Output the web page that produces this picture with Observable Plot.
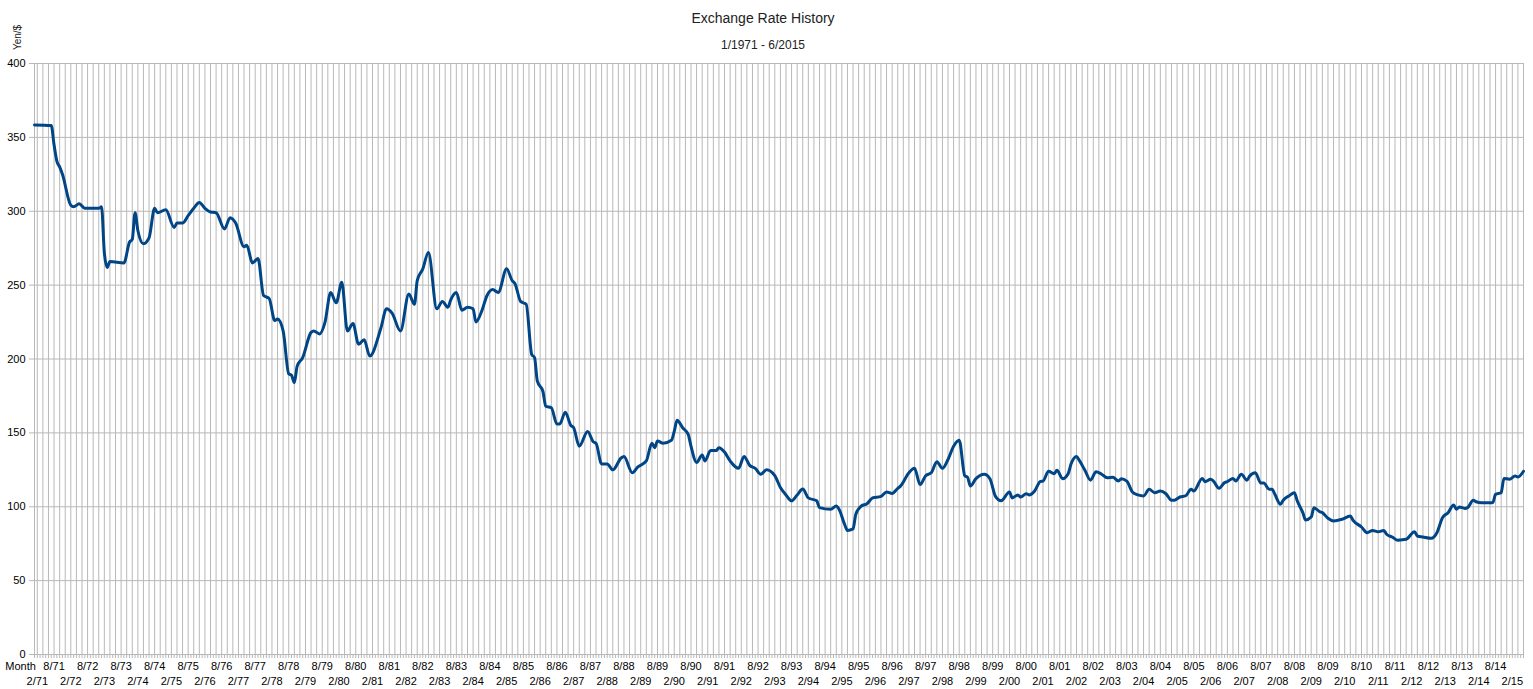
<!DOCTYPE html>
<html><head><meta charset="utf-8">
<script src="https://cdn.jsdelivr.net/npm/d3@7"></script>
<script src="https://cdn.jsdelivr.net/npm/@observablehq/plot@0.6"></script>
<style>html,body{margin:0;padding:0;background:#fff;} svg{display:block}</style>
</head><body><div id="chart"></div>
<script>
const title = "Exchange Rate History";
const subtitle = "1/1971 - 6/2015";
const yLabel = "Yen/$";
const firstLabel = "Month";

const months = ["1971-01","1971-07","1971-08","1971-09","1971-10","1971-11","1972-02","1972-03","1972-05","1972-07","1972-12",
"1973-01","1973-02","1973-03","1973-04","1973-09","1973-11","1973-12","1974-01","1974-02","1974-04","1974-06","1974-08","1974-09","1974-12",
"1975-03","1975-04","1975-06","1975-08","1975-10","1975-12","1976-02","1976-04","1976-06","1976-09","1976-11",
"1977-01","1977-04","1977-05","1977-07","1977-09","1977-11","1978-01","1978-03","1978-04","1978-06","1978-08","1978-09","1978-10","1978-11",
"1979-01","1979-04","1979-05","1979-07","1979-09","1979-11","1980-01","1980-03","1980-05","1980-07","1980-09","1980-11",
"1981-01","1981-05","1981-07","1981-09","1981-12","1982-03","1982-05","1982-06","1982-08","1982-10",
"1983-01","1983-03","1983-05","1983-06","1983-08","1983-10","1983-12","1984-02","1984-03","1984-05","1984-07","1984-09","1984-11",
"1985-02","1985-04","1985-05","1985-07","1985-09","1985-11","1985-12","1986-01","1986-03","1986-04","1986-06","1986-08","1986-09","1986-11",
"1987-01","1987-02","1987-04","1987-07","1987-09","1987-10","1987-12","1988-02","1988-04","1988-07","1988-08","1988-11",
"1989-01","1989-04","1989-06","1989-07","1989-08","1989-10","1990-01","1990-02","1990-03","1990-05","1990-07","1990-08","1990-10","1990-12",
"1991-01","1991-03","1991-05","1991-06","1991-08","1991-10","1992-01","1992-03","1992-05","1992-07","1992-09","1992-11",
"1993-02","1993-04","1993-06","1993-08","1993-10","1993-12","1994-02","1994-05","1994-06","1994-10","1994-12",
"1995-01","1995-03","1995-04","1995-06","1995-07","1995-09","1995-11","1996-01","1996-04","1996-06","1996-08","1996-10","1996-11",
"1997-02","1997-04","1997-06","1997-08","1997-10","1997-12","1998-02","1998-04","1998-06","1998-08","1998-10","1998-11","1998-12",
"1999-02","1999-05","1999-07","1999-09","1999-11","2000-02","2000-03","2000-05","2000-06","2000-08","2000-09","2000-11",
"2001-01","2001-02","2001-04","2001-06","2001-07","2001-09","2001-11","2001-12","2002-02","2002-03","2002-05","2002-07","2002-09","2002-11",
"2003-01","2003-03","2003-05","2003-06","2003-08","2003-10","2003-12","2004-02","2004-04","2004-06","2004-08","2004-10","2004-12",
"2005-01","2005-03","2005-05","2005-07","2005-08","2005-11","2005-12","2006-02","2006-03","2006-05","2006-07","2006-08","2006-10","2006-11",
"2007-01","2007-03","2007-04","2007-06","2007-08","2007-09","2007-11","2007-12","2008-01","2008-03","2008-04","2008-06","2008-08","2008-09","2008-11","2008-12",
"2009-02","2009-03","2009-05","2009-06","2009-08","2009-10","2010-01","2010-04","2010-05","2010-08","2010-10","2010-12",
"2011-02","2011-04","2011-05","2011-07","2011-09","2011-10","2011-12","2012-03","2012-04","2012-06","2012-09","2012-11",
"2013-01","2013-03","2013-05","2013-06","2013-07","2013-09","2013-10","2013-12","2014-01","2014-03","2014-05","2014-07","2014-08","2014-10","2014-11",
"2015-01","2015-03","2015-04","2015-06"];

const rates = [358.4,358,345,334,330,325,304,303,305,302,302,
303,272,262,266,265,279,281,299,287,278,282,302,299,301,
289,292,292,297,302,306,302,299.5,299,288,295.6,
292,276,277,265,268,243,241,226,227,219,190,189,184,195,
201,218,219,217,225,245,238,252,219,224,210,213,
202,221,234,231,219,244,237,253,261,272,
234,239,235,240,245,233,235,234,225,232,243,247,245,
261,253,251,239,237,203,201,185,178,168,167,156,156,164,
155,153.5,141,151,144,143,129,129,125,133,134,123,
127,131,143,140,144.5,143,145,151,158.5,153.5,149,141,130,135,
131,138,138,140,137,131,126,134,128,126,122,125,
121,113,108,104,108,112,106,104,99.4,98.3,100.5,
98.3,88,84,85,95,100.5,102,106,107,110,109,112.5,114,
123,126,115,121,123,130.5,126,132,141,145,121,120,114,
119,122,119,107,104,110,106,108,106.6,108.8,108,110.7,
117,117.4,124,122.4,124.7,119,122.4,128.7,134,131.4,124.7,118,123.7,122,
119.7,120,117.4,119,117.4,110,108,107.3,111.8,109.5,110.7,108.8,104.4,
104.4,106.6,107.3,111.8,110.7,119.2,117,118.6,117.4,112.5,116.3,117,119.2,117.4,
122,118,120.8,123,116,116,111.8,111.8,108.4,101.7,104.4,107.3,109.5,104,96,91,
93,99.4,96.7,96,92.2,90.4,91.5,93.7,90.8,86.3,82.4,84,
83.1,84,81.4,79.5,77.3,77.5,78,83.1,80.2,79.5,78.6,82.4,
92.6,96,101.2,98.3,99.8,98.9,99.4,104.4,103.4,102.7,102.7,102.7,108.4,109.5,119.2,
118.6,120.8,120.1,124];

const augLabels = ["8/71","8/72","8/73","8/74","8/75","8/76","8/77","8/78","8/79","8/80","8/81","8/82","8/83","8/84","8/85","8/86","8/87","8/88","8/89","8/90","8/91","8/92","8/93","8/94","8/95","8/96","8/97","8/98","8/99","8/00","8/01","8/02","8/03","8/04","8/05","8/06","8/07","8/08","8/09","8/10","8/11","8/12","8/13","8/14"];
const febLabels = ["2/71","2/72","2/73","2/74","2/75","2/76","2/77","2/78","2/79","2/80","2/81","2/82","2/83","2/84","2/85","2/86","2/87","2/88","2/89","2/90","2/91","2/92","2/93","2/94","2/95","2/96","2/97","2/98","2/99","2/00","2/01","2/02","2/03","2/04","2/05","2/06","2/07","2/08","2/09","2/10","2/11","2/12","2/13","2/14","2/15"];
const yTicks = [0,50,100,150,200,250,300,350,400];

const monthIndex = s => { const [y, m] = s.split("-").map(Number); return (y - 1971) * 12 + (m - 1); };
const labelIndex = s => { const [m, y] = s.split("/").map(Number); const yr = y < 50 ? 2000 + y : 1900 + y; return (yr - 1971) * 12 + (m - 1); };
const data = months.map((m, i) => ({t: monthIndex(m), v: rates[i]}));
const lastIdx = monthIndex("2015-06");
const gridX = d3.range(1, lastIdx + 1, 2);
const tickX = d3.range(0, lastIdx + 1);
const FONT = "'Liberation Sans', Arial, sans-serif";

const chart = Plot.plot({
  width: 1533, height: 689,
  marginLeft: 34, marginRight: 10, marginTop: 63, marginBottom: 35,
  x: {domain: [0, lastIdx], axis: null},
  y: {domain: [0, 400], axis: null},
  style: {fontFamily: FONT, background: "#fff", color: "#000"},
  marks: [
    Plot.ruleX(gridX, {x: d => d, y1: 0, y2: 400, stroke: "#b8b8b8", strokeWidth: 1}),
    Plot.ruleY(yTicks, {y: d => d, stroke: "#b8b8b8", strokeWidth: 1}),
    Plot.ruleX([0], {x: d => d, y1: 0, y2: 400, stroke: "#b8b8b8"}),
    Plot.axisX({ticks: tickX, tickSize: 4, tickFormat: () => "", label: null, stroke: "#b8b8b8"}),
    Plot.axisY({ticks: yTicks, tickSize: 5, tickPadding: 4, fontSize: 11, label: null, stroke: "#b8b8b8", fill: "#000"}),
    Plot.line(data, {x: "t", y: "v", stroke: "#004586", strokeWidth: 3, curve: "monotone-x", strokeLinejoin: "round"}),
    Plot.text(augLabels, {x: labelIndex, text: d => d, frameAnchor: "bottom", dy: 15.5, fontSize: 11, fill: "#000"}),
    Plot.text(febLabels, {x: labelIndex, text: d => d, frameAnchor: "bottom", dy: 30, fontSize: 11, fill: "#000"}),
    Plot.text([firstLabel], {x: () => -5, text: d => d, frameAnchor: "bottom", dy: 15.5, fontSize: 11, fill: "#000"}),
    Plot.text([title], {frameAnchor: "top", text: d => d, dx: -16, dy: -50, fontSize: 14, fill: "#222"}),
    Plot.text([subtitle], {frameAnchor: "top", text: d => d, dx: -16, dy: -23, fontSize: 12, fill: "#222"}),
    Plot.text([yLabel], {frameAnchor: "top-left", text: d => d, dx: -17, dy: -26, rotate: -90, textAnchor: "middle", lineAnchor: "middle", fontSize: 10, fill: "#222"})
  ]
});
document.getElementById("chart").appendChild(chart);
</script>
</body></html>
